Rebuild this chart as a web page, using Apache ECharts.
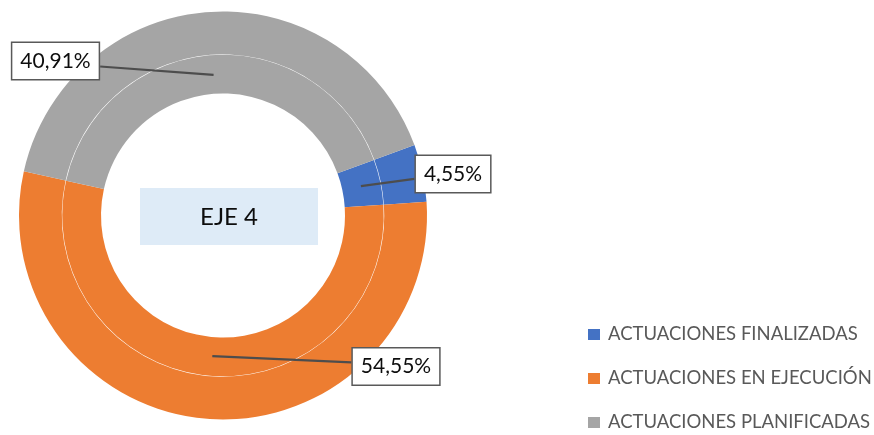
<!DOCTYPE html>
<html>
<head>
<meta charset="utf-8">
<script src="https://cdn.jsdelivr.net/npm/echarts@6/dist/echarts.min.js"></script>
<style>
  html, body { margin: 0; padding: 0; background: #fff; }
  #chart { width: 874px; height: 435px; }
</style>
</head>
<body>
<div id="chart"></div>
<script>
const categories = ['ACTUACIONES FINALIZADAS', 'ACTUACIONES EN EJECUCIÓN', 'ACTUACIONES PLANIFICADAS']
const counts = [1, 12, 9]
const colors = ['#4472C4', '#ED7D31', '#A5A5A5']
const centerTitle = 'EJE 4'

// where the callout boxes sit (box centres, px)
const calloutPos = [[453, 174], [396, 366.5], [55.5, 61]]

const FONT = 'Lato, "Noto Sans", sans-serif'
const center = [223, 215.5]
const startAngle = 20.2
const total = counts.reduce((a, b) => a + b, 0)

const pieData = categories.map((name, i) => ({
  name: name,
  value: counts[i],
  itemStyle: { color: colors[i] }
}))

const chart = echarts.init(document.getElementById('chart'), null, { renderer: 'canvas' })

const option = {
  animation: false,
  backgroundColor: '#fff',
  legend: {
    orient: 'vertical',
    left: 588,
    top: 324.5,
    padding: 0,
    itemWidth: 12,
    itemHeight: 11,
    itemGap: 24,
    icon: 'rect',
    data: categories,
    textStyle: {
      fontFamily: FONT,
      fontSize: 18.5,
      color: '#595959',
      lineHeight: 20,
      padding: [0, 0, 0, 3]
    }
  },
  graphic: [
    {
      type: 'rect',
      left: 140,
      top: 188,
      shape: { width: 178, height: 57 },
      style: { fill: '#DEEBF7' },
      silent: true
    },
    {
      type: 'text',
      x: 229,
      y: 217,
      style: {
        text: centerTitle,
        fill: '#0d0d0d',
        font: '24px ' + FONT,
        align: 'center',
        verticalAlign: 'middle'
      },
      silent: true
    }
  ],
  series: [
    {
      name: 'inner',
      type: 'pie',
      center: center,
      radius: [122, 160.75],
      startAngle: startAngle,
      clockwise: true,
      silent: true,
      label: { show: false },
      labelLine: { show: false },
      data: pieData
    },
    {
      name: 'outer',
      type: 'pie',
      center: center,
      radius: [161.25, 204],
      startAngle: startAngle,
      clockwise: true,
      silent: true,
      label: { show: false },
      labelLine: { show: false },
      data: pieData
    },
    {
      // invisible ring just for the callout labels
      name: 'labels',
      type: 'pie',
      z: 5,
      center: center,
      radius: [0, 141],
      startAngle: startAngle,
      clockwise: true,
      silent: true,
      avoidLabelOverlap: false,
      itemStyle: { color: 'rgba(0,0,0,0)' },
      label: {
        show: true,
        position: 'outside',
        formatter: p => (p.value / total * 100).toFixed(2).replace('.', ',') + '%',
        fontFamily: FONT,
        fontSize: 21,
        color: '#0d0d0d',
        backgroundColor: '#fff',
        borderColor: '#595959',
        borderWidth: 1.5,
        padding: [8, 8, 7, 8]
      },
      labelLine: {
        show: true,
        showAbove: true,
        length: 10,
        length2: 10,
        lineStyle: { color: '#4d4d4d', width: 2.2 }
      },
      labelLayout: function (params) {
        const pos = calloutPos[params.dataIndex]
        const start = params.labelLinePoints[0]
        const w = params.labelRect.width
        const toLeft = pos[0] < start[0]
        const endX = toLeft ? pos[0] + w / 2 : pos[0] - w / 2
        const endY = pos[1] + (start[1] - pos[1]) * 0.4
        return {
          x: pos[0],
          y: pos[1],
          align: 'center',
          verticalAlign: 'middle',
          labelLinePoints: [start, [endX, endY], [endX, endY]]
        }
      },
      data: pieData.map(d => ({ name: d.name, value: d.value, itemStyle: { color: 'rgba(0,0,0,0)' } }))
    }
  ]
}

chart.setOption(option)
</script>
</body>
</html>
